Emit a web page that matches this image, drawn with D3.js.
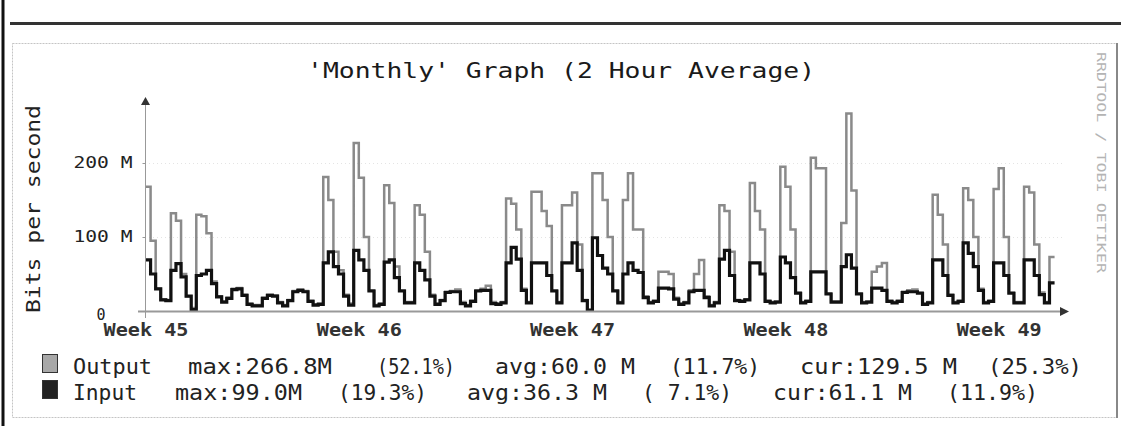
<!DOCTYPE html>
<html>
<head>
<meta charset="utf-8">
<script src="https://d3js.org/d3.v7.min.js"></script>
<style>
	body { margin: 0; background: #fff; }
	text { font-family: "DejaVu Sans Mono", monospace; }
</style>
</head>
<body>
<div id="chart"></div>
<script>
// Chart values (Mbit/s, one value per 4 hours, starting at Week 45):
var outputValues = [
	168, 95, 30, 16, 15, 132, 122, 50, 20, 4,
	130, 128, 105, 40, 20, 13, 18, 30, 31, 22,
	10, 8, 8, 18, 22, 21, 12, 8, 15, 27,
	29, 27, 14, 9, 10, 181, 150, 80, 55, 22,
	10, 227, 180, 100, 28, 8, 10, 170, 146, 60,
	28, 12, 12, 143, 130, 80, 22, 10, 15, 26,
	27, 29, 12, 8, 14, 28, 30, 34, 12, 10,
	12, 152, 145, 110, 30, 12, 161, 161, 135, 115,
	28, 12, 143, 143, 160, 90, 15, 2, 186, 186,
	150, 100, 28, 12, 150, 186, 110, 110, 20, 12,
	14, 53, 53, 50, 18, 10, 12, 28, 50, 69,
	20, 8, 12, 143, 135, 80, 15, 14, 16, 173,
	135, 110, 14, 12, 13, 195, 168, 110, 25, 12,
	14, 207, 193, 193, 24, 13, 13, 119, 266.8, 163,
	24, 12, 13, 53, 60, 65, 14, 12, 14, 26,
	28, 29, 25, 10, 12, 157, 130, 90, 22, 12,
	14, 166, 150, 100, 30, 12, 14, 165, 193, 100,
	25, 12, 12, 168, 160, 90, 25, 12, 73
];

var inputValues = [
	69, 50, 30, 15, 14, 55, 64, 46, 20, 2,
	48, 50, 55, 37, 19, 12, 17, 29, 30, 21,
	9, 7, 7, 17, 21, 20, 11, 7, 14, 26,
	28, 26, 13, 8, 9, 65, 80, 60, 50, 20,
	8, 82, 69, 55, 27, 7, 9, 66, 69, 45,
	27, 11, 11, 65, 55, 42, 20, 9, 14, 25,
	26, 26, 10, 7, 13, 27, 28, 28, 10, 9,
	11, 65, 86, 70, 28, 11, 65, 65, 65, 48,
	27, 11, 65, 65, 92, 55, 14, 1, 99, 75,
	58, 50, 27, 11, 50, 65, 55, 52, 18, 11,
	13, 31, 31, 30, 16, 9, 11, 26, 28, 28,
	18, 7, 11, 70, 82, 48, 14, 13, 15, 65,
	65, 50, 13, 11, 12, 73, 65, 45, 24, 11,
	13, 53, 53, 53, 23, 12, 12, 60, 76, 58,
	23, 11, 12, 31, 31, 28, 13, 11, 13, 25,
	26, 26, 24, 9, 11, 69, 69, 48, 21, 11,
	13, 92, 78, 60, 28, 11, 13, 65, 65, 48,
	24, 11, 11, 69, 69, 48, 22, 11, 38
];

var weekLabels = ["Week 45", "Week 46", "Week 47", "Week 48", "Week 49"];
var yTickValues = [0, 100, 200];
var yTickLabels = ["0", "100 M", "200 M"];

var legendNames = ["Output", "Input"];
var legendMax = ["max:266.8M", "max:99.0M"];
var legendMaxPct = ["(52.1%)", "(19.3%)"];
var legendAvg = ["avg:60.0 M", "avg:36.3 M"];
var legendAvgPct = ["(11.7%)", "( 7.1%)"];
var legendCur = ["cur:129.5 M", "cur:61.1 M"];
var legendCurPct = ["(25.3%)", "(11.9%)"];

var hoursPerSample = 4;
var hoursPerWeek = 168;

// Create the SVG:
var svg = d3.select("#chart")
	.append("svg")
	.attr("width", 1121)
	.attr("height", 426);

svg.append("rect")
	.attr("width", 1121)
	.attr("height", 426)
	.attr("fill", "#fff");

// Page frame:
svg.append("line")
	.attr("x1", 3).attr("x2", 3)
	.attr("y1", 0).attr("y2", 426)
	.attr("stroke", "#111")
	.attr("stroke-width", 3);

svg.append("line")
	.attr("x1", 10).attr("x2", 1121)
	.attr("y1", 23.5).attr("y2", 23.5)
	.attr("stroke", "#333")
	.attr("stroke-width", 3);

svg.append("rect")
	.attr("x", 12.5).attr("y", 43.5)
	.attr("width", 1104).attr("height", 374)
	.attr("fill", "none")
	.attr("stroke", "#c4c4c4")
	.attr("stroke-dasharray", "2,1")
	.attr("stroke-width", 1);

svg.append("line")
	.attr("x1", 1117).attr("x2", 1117)
	.attr("y1", 43).attr("y2", 418)
	.attr("stroke", "#888")
	.attr("stroke-width", 2);

// Create the scales:
var xScale = d3.scaleLinear()
	.domain([0, hoursPerWeek * 4])
	.range([145.5, 145.5 + 213.3 * 4]);

var yScale = d3.scaleLinear()
	.domain([0, 280])
	.range([311, 103.8]);

// Faint grid:
svg.append("g")
	.selectAll("line")
	.data([100, 200])
	.enter()
	.append("line")
	.attr("x1", 145).attr("x2", 1062)
	.attr("y1", function(d){ return yScale(d) + 0.5; })
	.attr("y2", function(d){ return yScale(d) + 0.5; })
	.attr("stroke", "#e4e4e4")
	.attr("stroke-dasharray", "1,3");

// Title:
svg.append("text")
	.attr("x", 307)
	.attr("y", 78)
	.attr("font-size", "22px")
	.attr("fill", "#1a1a1a")
	.attr("textLength", 508)
	.attr("lengthAdjust", "spacingAndGlyphs")
	.text("'Monthly' Graph (2 Hour Average)");

// Y label:
svg.append("text")
	.attr("transform", "translate(40,209) rotate(-90)")
	.attr("text-anchor", "middle")
	.attr("font-size", "20px")
	.attr("fill", "#222")
	.attr("textLength", 208)
	.attr("lengthAdjust", "spacingAndGlyphs")
	.text("Bits per second");

// Watermark:
svg.append("text")
	.attr("transform", "translate(1097,52) rotate(90)")
	.attr("font-size", "13px")
	.attr("fill", "#b4b4b4")
	.attr("textLength", 221)
	.attr("lengthAdjust", "spacingAndGlyphs")
	.text("RRDTOOL / TOBI OETIKER");

// Step lines:
function stepPoints(values)
{
	var pts = values.map(function(v, i){ return [i * hoursPerSample, v]; });
	pts.push([values.length * hoursPerSample, values[values.length - 1]]);
	return pts;
}

var stepLine = d3.line()
	.x(function(d){ return xScale(d[0]); })
	.y(function(d){ return yScale(d[1]); })
	.curve(d3.curveStepAfter);

svg.append("path")
	.datum(stepPoints(outputValues))
	.attr("d", stepLine)
	.attr("fill", "none")
	.attr("stroke", "#8a8a8a")
	.attr("stroke-width", 2.5);

svg.append("path")
	.datum(stepPoints(inputValues))
	.attr("d", stepLine)
	.attr("fill", "none")
	.attr("stroke", "#111")
	.attr("stroke-width", 3.2);

// Axes:
var yAxisCall = d3.axisLeft()
	.scale(yScale)
	.tickValues(yTickValues)
	.tickSize(3)
	.tickPadding(10)
	.tickFormat(function(d, i){ return yTickLabels[i]; });

var y_axis_group = svg.append("g")
	.attr("transform", "translate(145.5,0)")
	.call(yAxisCall);

y_axis_group.select(".domain").remove();
y_axis_group.selectAll("line").attr("stroke", "#999");
y_axis_group.selectAll("text")
	.attr("font-family", "DejaVu Sans Mono, monospace")
	.attr("font-size", "15px")
	.attr("fill", "#222")
	.each(function(d){
		var t = d3.select(this);
		if(d == 0)
			t.attr("x", -40).attr("dy", "0.55em");
		else
			t.attr("textLength", 59).attr("lengthAdjust", "spacingAndGlyphs");
	});

var xAxisCall = d3.axisBottom()
	.scale(xScale)
	.tickValues(weekLabels.map(function(d, i){ return i * hoursPerWeek; }))
	.tickSize(0)
	.tickFormat(function(d, i){ return weekLabels[i]; });

var x_axis_group = svg.append("g")
	.attr("transform", "translate(0,311)")
	.call(xAxisCall);

x_axis_group.select(".domain").remove();
x_axis_group.selectAll("text")
	.attr("font-family", "DejaVu Sans Mono, monospace")
	.attr("font-size", "18px")
	.attr("font-weight", "bold")
	.attr("fill", "#333")
	.attr("y", 25)
	.attr("dy", 0)
	.attr("textLength", 85)
	.attr("lengthAdjust", "spacingAndGlyphs");

// Axis lines with arrows:
svg.append("line")
	.attr("x1", 138).attr("x2", 1063)
	.attr("y1", 311.5).attr("y2", 311.5)
	.attr("stroke", "#999")
	.attr("stroke-width", 2);

svg.append("line")
	.attr("x1", 145.5).attr("x2", 145.5)
	.attr("y1", 318).attr("y2", 103)
	.attr("stroke", "#999")
	.attr("stroke-width", 1);

svg.append("path")
	.attr("d", "M1069,311.5 L1060,307 L1060,316 Z")
	.attr("fill", "#333");

svg.append("path")
	.attr("d", "M145.5,97 L141,105 L150,105 Z")
	.attr("fill", "#333");

// Legend:
var legendRows = svg.append("g")
	.selectAll("g")
	.data(legendNames)
	.enter()
	.append("g")
	.attr("transform", function(d, i){ return "translate(0," + (374 + i * 26) + ")"; });

legendRows.append("rect")
	.attr("x", 42.5).attr("y", -19.5)
	.attr("width", 15).attr("height", 18)
	.attr("fill", function(d, i){ return i == 0 ? "#a8a8a8" : "#222"; })
	.attr("stroke", "#333")
	.attr("stroke-width", 1);

var legendCols = [
	{ texts: legendNames,  x: [73, 73],   w: [79, 64] },
	{ texts: legendMax,    x: [188, 175], w: [144, 127] },
	{ texts: legendMaxPct, x: [377, 338], w: [78, 89] },
	{ texts: legendAvg,    x: [495, 467], w: [140, 140] },
	{ texts: legendAvgPct, x: [670, 642], w: [90, 90] },
	{ texts: legendCur,    x: [800, 773], w: [157, 139] },
	{ texts: legendCurPct, x: [988, 947], w: [94, 91] }
];

legendCols.forEach(function(col){
	legendRows.append("text")
		.attr("x", function(d, i){ return col.x[i]; })
		.attr("y", 0)
		.attr("font-size", "21px")
		.attr("fill", "#222")
		.attr("textLength", function(d, i){ return col.w[i]; })
		.attr("lengthAdjust", "spacingAndGlyphs")
		.attr("xml:space", "preserve")
		.style("white-space", "pre")
		.text(function(d, i){ return col.texts[i]; });
});
</script>
</body>
</html>
